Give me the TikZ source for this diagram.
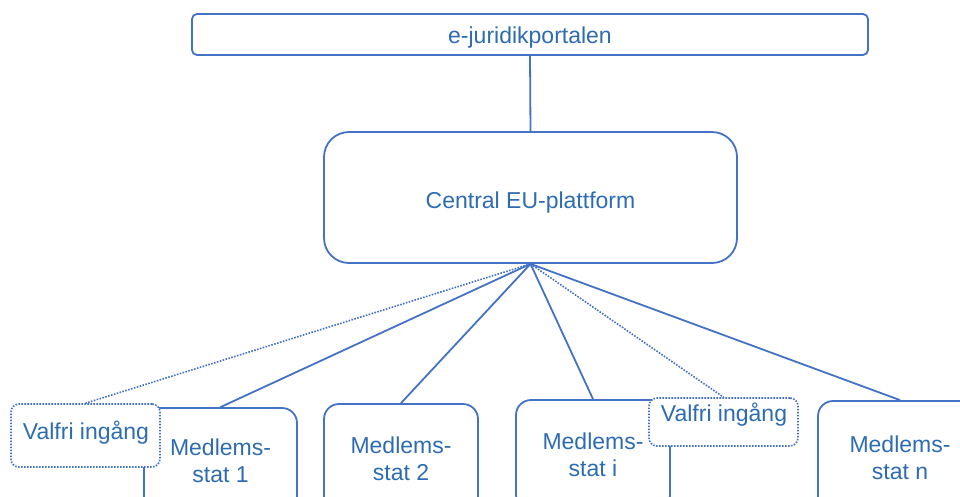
\documentclass[tikz,border=0pt]{standalone}
\usepackage{fontspec}
\setmainfont{Liberation Sans}
\definecolor{ln}{RGB}{68,114,196}
\definecolor{tx}{RGB}{46,108,178}
\begin{document}
\begin{tikzpicture}[x=1pt,y=-1pt,
  txt/.style={text=tx, font=\fontsize{23}{27}\selectfont, align=center, inner sep=0pt},
  box/.style={txt, draw=ln, line width=1.8pt, fill=white, rounded corners=#1},
  vbox/.style={draw=ln, line width=1.6pt, fill=white, rounded corners=8pt, dash pattern=on 1.6pt off 1.4pt},
  conn/.style={draw=ln, line width=1.8pt},
  opt/.style={draw=ln, line width=1.6pt, dash pattern=on 1.6pt off 1.4pt}]
\useasboundingbox (0,0) rectangle (960,496);
\clip (0,0) rectangle (960,496);
\node[box=5pt, minimum width=676pt, minimum height=41pt, text height=22pt, text depth=5pt] (top) at (530,34.5) {e-juridikportalen};
\node[box=25pt, minimum width=413pt, minimum height=131pt, text height=27pt, text depth=5pt] (central) at (530.5,197.5) {Central EU-plattform};
\node[box=15pt, minimum width=153pt, minimum height=106pt] (m1) at (220.5,461) {Medlems-\\stat 1};
\node[box=15pt, minimum width=154pt, minimum height=110pt] (m2) at (401,459) {Medlems-\\stat 2};
\node[box=15pt, minimum width=154pt, minimum height=110pt] (mi) at (593,455) {Medlems-\\stat i};
\node[box=15pt, minimum width=164pt, minimum height=113pt] (mn) at (900,457.5) {Medlems-\\stat n};
\node[vbox, minimum width=149pt, minimum height=63pt] (v1) at (85.5,435.5) {};
\node[txt] (v1t) at (86,433) {Valfri ingång};
\node[vbox, minimum width=149pt, minimum height=48pt] (v2) at (723.5,422) {};
\node[txt] (v2t) at (724,415) {Valfri ingång};
\draw[conn] (top.south) -- (central.north);
\draw[opt] (central.south) -- (v1.north);
\draw[conn] (central.south) -- (m1.north);
\draw[conn] (central.south) -- (m2.north);
\draw[conn] (central.south) -- (mi.north);
\draw[opt] (central.south) -- (v2.north);
\draw[conn] (central.south) -- (mn.north);
\end{tikzpicture}
\end{document}
